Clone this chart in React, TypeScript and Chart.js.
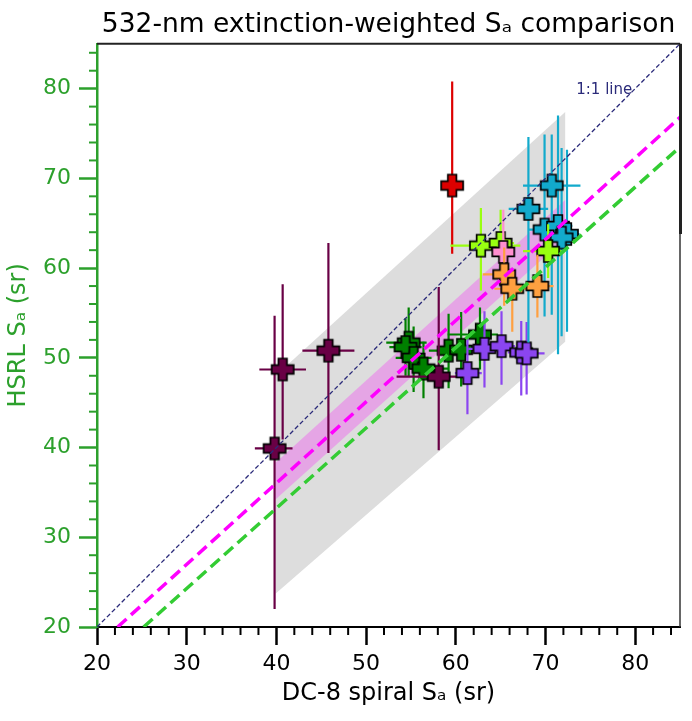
import React, { useEffect, useRef } from 'react';
import { Chart, registerables } from 'chart.js';

Chart.register(...registerables);

const FONT = "'DejaVu Sans', 'Liberation Sans', sans-serif";
const TITLE = '532-nm extinction-weighted Sₐ comparison';
const X_TITLE = 'DC-8 spiral Sₐ (sr)';
const Y_TITLE = 'HSRL Sₐ (sr)';
const AXIS_MIN = 20;
const AXIS_MAX = 85;
const MAJOR_STEP = 10;
const MINOR_STEP = 2;
const GREEN_AXIS = '#2ca02c';

// 1:1 line and fits
const oneToOneX = [20, 85];
const oneToOneY = [20, 85];
const oneToOneLabel = '1:1 line';
const oneToOneLabelPos = [76.55, 79.8];
const magentaFitX = [22.3, 85];
const magentaFitY = [20, 76.8];
const greenFitX = [25.2, 85];
const greenFitY = [20, 73.5];

// shaded bands (polygon vertices)
const greyBandX = [39.9, 72.2, 72.2, 39.9];
const greyBandY = [23.7, 51.8, 77.4, 48.0];
const pinkBandX = [39.9, 72.2, 72.2, 39.9];
const pinkBandY = [34.2, 63.3, 67.6, 38.3];

// series: value, error minus, error plus
const maroonX = [39.8, 40.7, 45.8, 58.1];
const maroonY = [39.9, 48.7, 50.8, 47.9];
const maroonXLo = [2.2, 2.6, 2.9, 4.7];
const maroonXHi = [2.0, 2.6, 2.9, 3.0];
const maroonYLo = [17.9, 7.8, 11.4, 8.2];
const maroonYHi = [14.8, 9.5, 12.0, 10.0];

const redX = [59.6];
const redY = [69.2];
const redXLo = [1.0];
const redXHi = [1.0];
const redYLo = [7.6];
const redYHi = [11.6];

const greenX = [54.75, 54.4, 55.3, 56.4, 59.2, 60.6, 62.7];
const greenY = [51.7, 51.2, 50.0, 48.8, 50.8, 50.9, 52.6];
const greenXLo = [2.5, 1.8, 2.0, 1.5, 2.2, 2.0, 3.6];
const greenXHi = [2.0, 1.8, 2.0, 2.8, 2.0, 2.4, 2.0];
const greenYLo = [3.8, 3.2, 3.8, 3.3, 4.2, 4.1, 3.9];
const greenYHi = [3.9, 3.2, 3.5, 3.0, 4.1, 4.2, 3.0];

const purpleX = [61.3, 63.2, 65.1, 67.3, 67.9];
const purpleY = [48.3, 51.0, 51.3, 50.6, 50.5];
const purpleXLo = [1.4, 1.8, 1.5, 1.5, 1.6];
const purpleXHi = [1.6, 1.8, 1.5, 1.5, 2.0];
const purpleYLo = [4.6, 4.3, 4.3, 4.8, 4.6];
const purpleYHi = [4.0, 4.2, 3.9, 3.5, 3.5];

const cyanX = [70.7, 68.1, 69.9, 71.4, 72.4, 71.8];
const cyanY = [69.2, 66.6, 64.3, 64.7, 63.8, 63.4];
const cyanXLo = [3.2, 2.2, 1.8, 1.6, 1.4, 1.2];
const cyanXHi = [3.2, 2.2, 1.8, 1.6, 1.4, 1.2];
const cyanYLo = [14.4, 14.9, 9.7, 14.3, 10.9, 11.0];
const cyanYHi = [5.7, 8.0, 10.6, 12.3, 9.4, 10.0];

const limeX = [62.8, 65.0, 70.3];
const limeY = [62.5, 62.8, 61.9];
const limeXLo = [3.4, 1.2, 2.8];
const limeXHi = [4.4, 1.5, 1.5];
const limeYLo = [5.0, 4.0, 3.0];
const limeYHi = [4.2, 3.7, 3.0];

const pinkX = [65.3];
const pinkY = [61.8];
const pinkXLo = [1.2];
const pinkXHi = [1.2];
const pinkYLo = [3.0];
const pinkYHi = [4.7];

const orangeX = [65.4, 66.3, 69.1];
const orangeY = [59.3, 57.7, 58.0];
const orangeXLo = [2.4, 2.0, 1.5];
const orangeXHi = [1.2, 2.0, 1.8];
const orangeYLo = [3.5, 4.8, 3.5];
const orangeYHi = [3.0, 2.2, 3.5];

function makePlus(color: string): HTMLCanvasElement {
  const s = 26;
  const c = document.createElement('canvas');
  c.width = s;
  c.height = s;
  const g = c.getContext('2d')!;
  const m = s / 2;
  const L = 11;
  const W = 4.3;
  g.beginPath();
  g.moveTo(m - W, m - L);
  g.lineTo(m + W, m - L);
  g.lineTo(m + W, m - W);
  g.lineTo(m + L, m - W);
  g.lineTo(m + L, m + W);
  g.lineTo(m + W, m + W);
  g.lineTo(m + W, m + L);
  g.lineTo(m - W, m + L);
  g.lineTo(m - W, m + W);
  g.lineTo(m - L, m + W);
  g.lineTo(m - L, m - W);
  g.lineTo(m - W, m - W);
  g.closePath();
  g.fillStyle = color;
  g.fill();
  g.lineWidth = 1.7;
  g.strokeStyle = '#000';
  g.lineJoin = 'miter';
  g.stroke();
  return c;
}

function pts(xs: number[], ys: number[]) {
  return xs.map((x, i) => ({ x, y: ys[i] }));
}

function series(color: string, xs: number[], ys: number[], xlo: number[], xhi: number[], ylo: number[], yhi: number[]) {
  return {
    type: 'scatter',
    data: pts(xs, ys),
    pointStyle: makePlus(color),
    pointRadius: 11,
    pointHoverRadius: 11,
    errorBars: { color, xlo, xhi, ylo, yhi },
  };
}

const errorBarPlugin = {
  id: 'errorBars',
  beforeDatasetDraw(chart: any, args: any) {
    const ds = chart.data.datasets[args.index];
    if (!ds.errorBars) return;
    const { ctx, chartArea, scales } = chart;
    const xs = scales.x;
    const ys = scales.y;
    const eb = ds.errorBars;
    ctx.save();
    ctx.beginPath();
    ctx.rect(chartArea.left, chartArea.top, chartArea.right - chartArea.left, chartArea.bottom - chartArea.top);
    ctx.clip();
    ctx.strokeStyle = eb.color;
    ctx.lineWidth = 2.2;
    ds.data.forEach((p: any, i: number) => {
      const px = xs.getPixelForValue(p.x);
      const py = ys.getPixelForValue(p.y);
      ctx.beginPath();
      ctx.moveTo(xs.getPixelForValue(p.x - eb.xlo[i]), py);
      ctx.lineTo(xs.getPixelForValue(p.x + eb.xhi[i]), py);
      ctx.moveTo(px, ys.getPixelForValue(p.y - eb.ylo[i]));
      ctx.lineTo(px, ys.getPixelForValue(p.y + eb.yhi[i]));
      ctx.stroke();
    });
    ctx.restore();
  },
};

const decorPlugin = {
  id: 'decor',
  afterDatasetsDraw(chart: any) {
    const { ctx, scales } = chart;
    ctx.save();
    ctx.fillStyle = '#2b2b7a';
    ctx.font = `15px ${FONT}`;
    ctx.textAlign = 'center';
    ctx.textBaseline = 'middle';
    ctx.fillText(oneToOneLabel, scales.x.getPixelForValue(oneToOneLabelPos[0]), scales.y.getPixelForValue(oneToOneLabelPos[1]));
    ctx.restore();
  },
  afterDraw(chart: any) {
    const { ctx, chartArea, scales } = chart;
    const xs = scales.x;
    const ys = scales.y;
    ctx.save();
    ctx.strokeStyle = '#222';
    ctx.lineWidth = 2;
    ctx.beginPath();
    ctx.moveTo(chartArea.left, chartArea.top);
    ctx.lineTo(chartArea.right, chartArea.top);
    ctx.stroke();
    ctx.strokeStyle = '#333';
    ctx.lineWidth = 1.5;
    ctx.beginPath();
    ctx.moveTo(chartArea.right, chartArea.top);
    ctx.lineTo(chartArea.right, chartArea.bottom);
    ctx.stroke();
    ctx.strokeStyle = '#222';
    ctx.lineWidth = 3;
    ctx.beginPath();
    ctx.moveTo(chartArea.right + 0.5, chartArea.top);
    ctx.lineTo(chartArea.right + 0.5, ys.getPixelForValue(63.8));
    ctx.stroke();
    ctx.lineWidth = 2;
    for (let v = AXIS_MIN; v <= AXIS_MAX + 1e-9; v += MINOR_STEP) {
      if (v % MAJOR_STEP === 0) continue;
      const px = xs.getPixelForValue(v);
      ctx.strokeStyle = '#000';
      ctx.beginPath();
      ctx.moveTo(px, chartArea.bottom);
      ctx.lineTo(px, chartArea.bottom + 8);
      ctx.stroke();
      const py = ys.getPixelForValue(v);
      ctx.strokeStyle = GREEN_AXIS;
      ctx.beginPath();
      ctx.moveTo(chartArea.left, py);
      ctx.lineTo(chartArea.left - 8, py);
      ctx.stroke();
    }
    ctx.restore();
  },
};

export default function App() {
  const ref = useRef<HTMLCanvasElement>(null);
  useEffect(() => {
    if (!ref.current) return;
    const lineDs = (xs: number[], ys: number[], color: string, width: number, dash: number[]) => ({
      type: 'line',
      data: pts(xs, ys),
      borderColor: color,
      borderWidth: width,
      borderDash: dash,
      pointRadius: 0,
      fill: false,
    });
    const bandDs = (xs: number[], ys: number[], color: string) => ({
      type: 'line',
      data: pts(xs, ys),
      borderColor: 'rgba(0,0,0,0)',
      borderWidth: 0,
      backgroundColor: color,
      pointRadius: 0,
      fill: 'shape',
    });
    const chart = new Chart(ref.current, {
      type: 'scatter',
      data: {
        datasets: [
          lineDs(oneToOneX, oneToOneY, '#2b2b7a', 1.3, [4.5, 2.5]),
          lineDs(magentaFitX, magentaFitY, '#ff00ff', 3.5, [12, 6]),
          lineDs(greenFitX, greenFitY, '#33cc33', 3.5, [12, 6]),
          series('#ffa040', orangeX, orangeY, orangeXLo, orangeXHi, orangeYLo, orangeYHi),
          series('#ff8ecf', pinkX, pinkY, pinkXLo, pinkXHi, pinkYLo, pinkYHi),
          series('#99ff11', limeX, limeY, limeXLo, limeXHi, limeYLo, limeYHi),
          series('#12aacc', cyanX, cyanY, cyanXLo, cyanXHi, cyanYLo, cyanYHi),
          series('#8b45f0', purpleX, purpleY, purpleXLo, purpleXHi, purpleYLo, purpleYHi),
          series('#690045', maroonX, maroonY, maroonXLo, maroonXHi, maroonYLo, maroonYHi),
          series('#008000', greenX, greenY, greenXLo, greenXHi, greenYLo, greenYHi),
          series('#dd0000', redX, redY, redXLo, redXHi, redYLo, redYHi),
          bandDs(pinkBandX, pinkBandY, 'rgba(255,0,255,0.25)'),
          bandDs(greyBandX, greyBandY, '#dddddd'),
        ] as any,
      },
      options: {
        animation: false,
        responsive: false,
        devicePixelRatio: 1,
        events: [],
        layout: { padding: { left: 0, right: 12, top: 0, bottom: 0 } },
        plugins: {
          legend: { display: false },
          tooltip: { enabled: false },
          title: {
            display: true,
            text: TITLE,
            color: '#000',
            fullSize: false,
            font: { family: FONT, size: 26.5, weight: 'normal', lineHeight: 1.2 },
            padding: { top: 9, bottom: 3 },
          },
        },
        scales: {
          x: {
            type: 'linear',
            position: 'bottom',
            min: AXIS_MIN,
            max: AXIS_MAX,
            afterFit: (s: any) => { s.height = 94; },
            ticks: { stepSize: MAJOR_STEP, includeBounds: false, color: '#000', font: { family: FONT, size: 22 }, padding: 6, maxRotation: 0 },
            grid: { display: true, drawOnChartArea: false, drawTicks: true, tickLength: 18, tickWidth: 2.5, tickColor: '#000', color: '#000' },
            border: { display: true, color: '#000', width: 2 },
            title: { display: true, text: X_TITLE, color: '#000', font: { family: FONT, size: 24, lineHeight: 1.2 }, padding: { top: 0, bottom: 13 } },
          },
          y: {
            type: 'linear',
            position: 'left',
            min: AXIS_MIN,
            max: AXIS_MAX,
            afterFit: (s: any) => { s.width = 97; },
            ticks: { stepSize: MAJOR_STEP, includeBounds: false, color: GREEN_AXIS, font: { family: FONT, size: 22 }, padding: 8 },
            grid: { display: true, drawOnChartArea: false, drawTicks: true, tickLength: 18, tickWidth: 2.5, tickColor: GREEN_AXIS, color: GREEN_AXIS },
            border: { display: true, color: GREEN_AXIS, width: 2.5 },
            title: { display: true, text: Y_TITLE, color: GREEN_AXIS, font: { family: FONT, size: 24, lineHeight: 1.2 }, padding: { top: 4, bottom: 0 } },
          },
        },
      } as any,
      plugins: [errorBarPlugin, decorPlugin],
    });
    return () => chart.destroy();
  }, []);
  return (
    <div style={{ position: 'absolute', left: 0, top: 0, width: 692, height: 721, background: '#fff' }}>
      <canvas ref={ref} width={692} height={721} style={{ display: 'block' }} />
    </div>
  );
}
